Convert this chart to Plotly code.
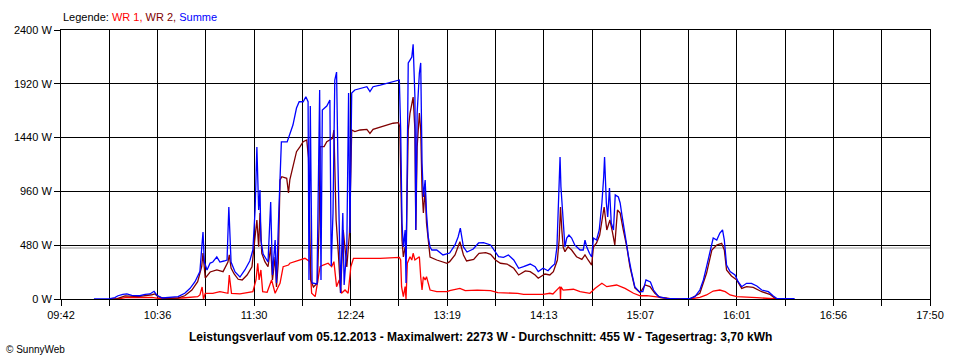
import datetime as dt
import plotly.graph_objects as go

DAY = "2013-12-05"

# ---- Summe (blue) ----
t_summe = ["10:00:30","10:09:30","10:12:15","10:14:00","10:16:45","10:19:00","10:21:45","10:26:15","10:29:15","10:32:00",
"10:34:15","10:35:45","10:38:45","10:44:15","10:47:45","10:51:30","10:54:30","10:57:15","11:00:00","11:01:15",
"11:01:45","11:02:30","11:04:00","11:05:45","11:07:15","11:09:30","11:11:15","11:13:30","11:15:15","11:16:15",
"11:17:30","11:19:45","11:22:30","11:25:15","11:28:00","11:29:45","11:31:00","11:32:00","11:33:00","11:33:45",
"11:34:15","11:35:30","11:38:15","11:39:45","11:40:45","11:42:15","11:43:00","11:44:15","11:45:00","11:45:45",
"11:49:00","11:50:30","11:52:15","11:54:15","11:55:45","11:58:00","11:59:30","12:00:45","12:01:15","12:02:00",
"12:03:00","12:05:45","12:07:15","12:08:00","12:08:45","12:11:15","12:13:00","12:13:45","12:14:45","12:15:45",
"12:16:45","12:17:30","12:18:15","12:19:00","12:20:15","12:21:00","12:22:30","12:23:30","12:24:15","12:25:15",
"12:27:00","12:30:00","12:33:45","12:35:30","12:37:15","12:41:15","12:45:00","12:48:30","12:52:00","12:52:45",
"12:53:30","12:54:15","12:55:15","12:55:45","12:56:30","12:57:00","12:58:00","12:59:00","12:59:45","13:00:45",
"13:01:15","13:02:00","13:03:15","13:04:00","13:04:45","13:05:30","13:06:30","13:07:15","13:08:15","13:09:15",
"13:10:15","13:13:00","13:16:30","13:20:15","13:23:15","13:25:00","13:26:15","13:28:00","13:30:00","13:33:30",
"13:36:30","13:39:15","13:43:15","13:46:00","13:47:45","13:50:30","13:53:15","13:56:15","13:59:00","14:01:45",
"14:05:30","14:08:15","14:10:00","14:12:45","14:15:30","14:17:30","14:19:15","14:20:30","14:21:30","14:22:15",
"14:22:45","14:23:15","14:24:00","14:25:00","14:26:00","14:27:15","14:28:45","14:30:30","14:33:30","14:35:15",
"14:36:15","14:37:15","14:38:45","14:40:00","14:41:00","14:42:45","14:44:15","14:45:45","14:46:45","14:47:15",
"14:48:15","14:49:00","14:50:00","14:51:00","14:52:15","14:53:15","14:55:00","14:56:00","14:57:00","14:58:45",
"15:00:45","15:02:30","15:04:15","15:06:45","15:08:45","15:10:30","15:13:00","15:14:45","15:17:30","15:22:15",
"15:29:30","15:35:15","15:38:00","15:40:45","15:42:45","15:44:30","15:46:30","15:48:15","15:50:15","15:52:00",
"15:53:30","15:54:30","15:55:45","15:57:45","16:00:30","16:02:15","16:04:15","16:07:00","16:09:45","16:12:45",
"16:15:30","16:19:15","16:22:00","16:24:00","16:34:00"]
p_summe = [0,4,12,29,42,45,33,29,42,45,
69,36,9,15,21,51,95,154,244,500,
598,330,259,321,330,375,330,339,348,821,
330,241,196,259,339,437,794,1356,794,972,
526,401,330,865,214,526,143,749,1151,1401,
1401,1463,1552,1704,1760,1760,1805,1760,170,1722,
143,134,1865,170,1686,1722,1775,294,767,1954,
2025,1240,464,54,767,125,464,1838,589,1838,
1865,1880,1894,1850,1894,1909,1924,1939,1954,1508,
678,464,616,143,1802,2106,2132,2159,2273,1802,
616,1659,2016,2106,1213,910,1062,767,553,464,
437,437,393,410,482,553,633,464,419,446,
500,502,482,422,377,372,393,348,274,288,
312,288,244,274,252,288,312,464,857,1267,
999,883,705,464,544,571,544,482,437,437,
526,464,408,375,544,526,616,857,1088,1267,
857,732,990,678,616,928,910,857,749,553,
375,232,107,65,65,170,152,80,21,6,
0,6,21,80,170,286,410,544,526,589,
616,526,303,244,214,154,110,140,140,116,
80,65,27,4,4]

# ---- WR 2 (dark red) ----
t_wr2 = ["10:09:30","10:13:30","10:18:00","10:25:15","10:33:00","10:34:45","10:36:30","10:40:30","10:47:45","10:51:30",
"10:55:30","10:58:45","11:01:00","11:01:45","11:03:00","11:05:45","11:09:30","11:13:00","11:15:45","11:16:30",
"11:17:30","11:19:15","11:21:30","11:23:45","11:26:30","11:29:15","11:30:30","11:32:00","11:33:00","11:33:45",
"11:34:45","11:36:30","11:38:15","11:39:45","11:40:45","11:42:15","11:43:00","11:44:00","11:45:00","11:46:00",
"11:48:45","11:49:45","11:50:30","11:52:30","11:54:15","11:56:15","11:58:00","12:00:00","12:01:00","12:02:15",
"12:03:45","12:06:00","12:07:00","12:07:30","12:09:45","12:11:15","12:13:00","12:14:30","12:15:15","12:16:30",
"12:17:45","12:19:00","12:20:30","12:22:30","12:24:00","12:25:15","12:27:00","12:30:00","12:33:45","12:35:30",
"12:37:15","12:41:15","12:45:00","12:48:30","12:51:30","12:52:15","12:52:45","12:53:30","12:54:15","12:55:15",
"12:55:45","12:56:30","12:57:00","12:58:00","12:59:00","12:59:45","13:00:45","13:01:15","13:02:00","13:03:15",
"13:04:00","13:04:45","13:05:30","13:06:30","13:07:15","13:08:15","13:09:15","13:13:00","13:18:45","13:20:15",
"13:23:15","13:26:00","13:28:00","13:29:45","13:33:45","13:36:45","13:40:30","13:43:15","13:46:00","13:48:45",
"13:52:30","13:56:15","13:59:00","14:02:45","14:05:30","14:08:15","14:10:00","14:13:45","14:16:30","14:18:30",
"14:20:45","14:21:45","14:22:30","14:23:15","14:24:00","14:25:00","14:26:45","14:28:45","14:31:30","14:34:30",
"14:36:15","14:38:00","14:40:00","14:41:00","14:42:45","14:44:30","14:46:15","14:47:00","14:48:30","14:50:15",
"14:51:45","14:53:00","14:54:30","14:56:00","14:57:45","14:59:45","15:01:30","15:04:15","15:07:15","15:10:00",
"15:12:45","15:15:30","15:18:30","15:24:00","15:35:15","15:40:45","15:44:30","15:47:30","15:50:15","15:53:00",
"15:54:30","15:55:45","15:58:30","16:01:30","16:04:15","16:07:00","16:10:45","16:15:30","16:20:00","16:23:00",
"16:26:00"]
p_wr2 = [0,3,27,21,38,45,21,3,9,29,
80,154,288,410,187,241,259,244,330,393,
276,223,176,170,214,288,482,705,467,767,
408,333,288,464,170,375,107,321,1062,1091,
1077,946,1062,1196,1314,1359,1403,1419,1258,170,
107,143,705,1359,1359,1403,1419,1434,1508,705,
410,54,616,286,588,1508,1493,1508,1514,1478,
1514,1532,1552,1568,1573,1537,1124,526,375,464,
375,1267,1508,1659,1749,1802,1508,616,1356,1659,
1508,972,767,972,678,526,375,348,319,333,
393,511,393,339,354,408,413,399,348,319,
312,274,214,250,244,214,185,223,214,244,
348,526,821,616,464,422,467,437,377,354,
393,348,303,464,500,571,767,821,616,705,
589,482,794,767,616,464,286,98,56,125,
110,51,13,4,0,51,229,437,482,497,
437,259,205,170,95,110,104,65,42,6,
0]

# ---- WR 1 (red) ----
t_wr1 = ["10:09:30","10:14:00","10:18:00","10:33:00","10:36:30","10:50:00","10:58:45","11:00:00","11:01:15","11:02:00",
"11:03:00","11:07:15","11:11:15","11:15:45","11:16:30","11:17:45","11:22:30","11:26:30","11:29:45","11:31:30",
"11:32:30","11:33:15","11:34:15","11:35:15","11:37:45","11:40:15","11:42:15","11:44:00","11:45:00","11:46:45",
"11:49:45","11:50:30","11:53:30","11:56:15","11:59:00","12:01:45","12:02:45","12:04:45","12:06:30","12:07:30",
"12:09:15","12:12:00","12:14:00","12:15:15","12:16:45","12:18:15","12:19:30","12:21:30","12:23:15","12:24:45",
"12:26:15","12:33:45","12:41:15","12:52:00","12:52:45","12:53:15","12:54:15","12:55:15","12:55:45","12:56:30",
"12:58:00","12:59:00","12:59:45","13:00:45","13:03:15","13:04:00","13:04:45","13:05:30","13:06:30","13:07:15",
"13:08:15","13:09:15","13:13:00","13:18:45","13:20:15","13:26:00","13:29:00","13:35:45","13:43:15","13:47:15",
"13:58:30","14:01:45","14:12:45","14:16:30","14:18:15","14:21:15","14:22:15","14:22:30","14:22:45","14:24:00",
"14:29:45","14:33:30","14:39:00","14:42:00","14:45:45","14:48:30","14:54:00","14:58:45","15:03:30","15:07:15",
"15:11:00","15:16:30","15:24:00","15:35:15","15:40:45","15:44:30","15:48:15","15:52:00","15:55:00","15:57:45",
"16:01:30","16:12:45","16:20:00","16:24:00"]
p_wr1 = [0,0,12,15,6,9,21,36,107,0,
51,51,65,51,214,51,45,56,65,170,
319,170,259,65,60,170,51,110,140,288,
303,319,333,348,363,333,51,21,170,288,
303,319,288,333,110,170,51,80,51,288,
363,363,363,372,348,110,21,110,0,319,
377,348,408,348,377,199,80,199,170,199,
140,80,65,65,74,95,74,80,74,56,
51,42,42,51,45,95,110,0,107,80,
87,65,51,95,140,110,125,95,51,29,
31,18,3,0,15,36,71,80,65,36,
21,12,6,0]

x_start, x_end = dt.datetime(2013, 12, 5, 9, 42), dt.datetime(2013, 12, 5, 17, 50)
x_labels = ["09:42", "", "10:36", "", "11:30", "", "12:24", "", "13:19", "", "14:13", "",
            "15:07", "", "16:01", "", "16:56", "", "17:50"]
y_ticks = [0, 480, 960, 1440, 1920, 2400]
y_labels = ["0 W", "480 W", "960 W", "1440 W", "1920 W", "2400 W"]
average_w = 455

FONT = "Liberation Sans"


def ts(lst):
    return [f"{DAY} {t}" for t in lst]


step = (x_end - x_start) / (len(x_labels) - 1)
x_tickvals = [x_start + i * step for i in range(len(x_labels))]

fig = go.Figure()
fig.add_trace(go.Scatter(x=ts(t_wr1), y=p_wr1, mode="lines", name="WR 1",
                         line=dict(color="#ff0000", width=1.3)))
fig.add_trace(go.Scatter(x=ts(t_wr2), y=p_wr2, mode="lines", name="WR 2",
                         line=dict(color="#800000", width=1.3)))
fig.add_trace(go.Scatter(x=ts(t_summe), y=p_summe, mode="lines", name="Summe",
                         line=dict(color="#0000ff", width=1.3)))

fig.add_shape(type="line", xref="paper", x0=0, x1=1, yref="y", y0=average_w, y1=average_w,
              line=dict(color="#999999", width=1), layer="below")

fig.update_layout(
    width=960, height=360,
    margin=dict(l=61, r=30, t=30, b=61),
    paper_bgcolor="white", plot_bgcolor="white",
    showlegend=False,
    font=dict(family=FONT, size=11, color="black"),
    xaxis=dict(type="date", range=[x_start, x_end], tickmode="array",
               tickvals=x_tickvals, ticktext=x_labels,
               showgrid=True, gridcolor="black", gridwidth=1,
               showline=True, linecolor="black", linewidth=1, mirror=True,
               ticks="outside", ticklen=6, tickcolor="black", tickwidth=1,
               zeroline=False, tickfont=dict(family=FONT, size=11)),
    yaxis=dict(range=[0, 2400], tickmode="array", tickvals=y_ticks, ticktext=y_labels,
               showgrid=True, gridcolor="black", gridwidth=1,
               showline=True, linecolor="black", linewidth=1, mirror=True,
               ticks="outside", ticklen=6, tickcolor="black", tickwidth=1,
               zeroline=False, tickfont=dict(family=FONT, size=11)),
)

fig.add_annotation(
    xref="paper", yref="paper", x=0, y=(299 - 17) / 269, xanchor="left", yanchor="middle",
    showarrow=False, font=dict(family=FONT, size=11),
    text="Legende: <span style='color:#ff0000'>WR 1,</span> <span style='color:#800000'>WR 2,</span> "
         "<span style='color:#0000ff'>Summe</span>")
fig.add_annotation(
    xref="paper", yref="paper", x=(480 - 61) / 869, y=(299 - 337) / 269, xanchor="center", yanchor="middle",
    showarrow=False, font=dict(family=FONT, size=12),
    text="<b>Leistungsverlauf vom 05.12.2013 - Maximalwert: 2273 W - Durchschnitt: 455 W - Tagesertrag: 3,70 kWh</b>")
fig.add_annotation(
    xref="paper", yref="paper", x=(4 - 61) / 869, y=(299 - 349) / 269, xanchor="left", yanchor="middle",
    showarrow=False, font=dict(family=FONT, size=10),
    text="© SunnyWeb")

fig.write_html("out.html", config={"displayModeBar": False},
               post_script="document.body.style.margin='0';document.body.style.padding='0';"
                           "document.documentElement.style.overflow='hidden';")
